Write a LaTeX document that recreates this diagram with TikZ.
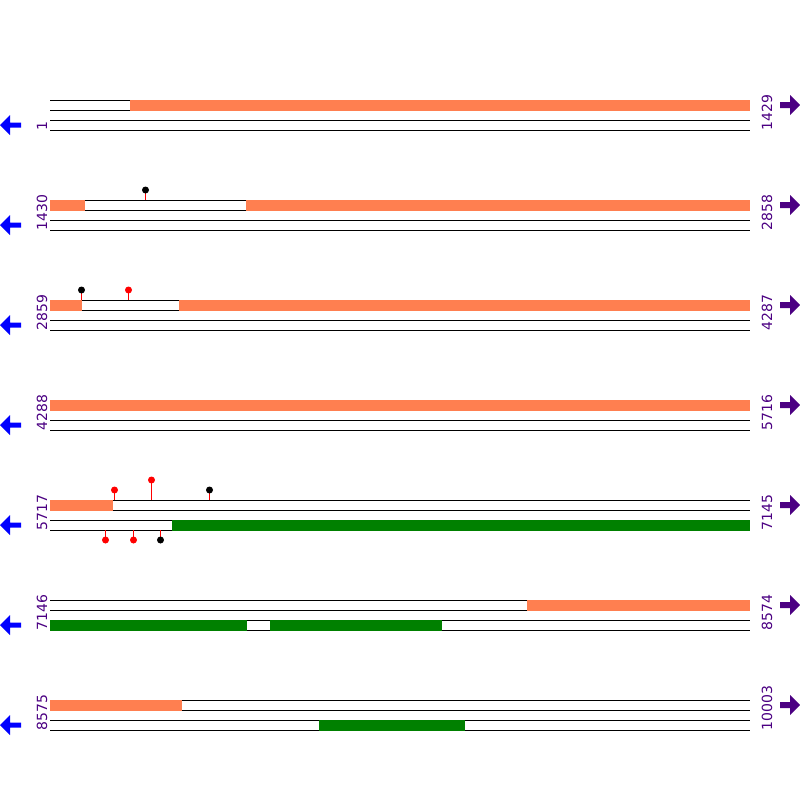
\documentclass[tikz,border=0pt]{standalone}
\usepackage{fontspec}
\setmainfont{DejaVu Sans}
\definecolor{coralc}{HTML}{FF7F50}
\definecolor{greenc}{HTML}{008000}
\definecolor{labc}{HTML}{4B0082}
\begin{document}
\begin{tikzpicture}[x=1pt,y=-1pt,
  strand/.style={line width=1pt,black},
  cds/.style={fill=coralc,draw=none},
  gbox/.style={fill=greenc,draw=none},
  stick/.style={red,line width=1pt},
  headR/.style={fill=red,draw=none},
  headB/.style={fill=black,draw=none},
  numlab/.style={text=labc,font=\fontsize{14}{14}\selectfont,rotate=90,anchor=base west,inner sep=0pt},
  larrow/.style={fill=blue,draw=none},
  rarrow/.style={fill=labc,draw=none}]
\useasboundingbox (0,0) rectangle (800,800);
\foreach \i/\l/\r in {0/1/1429,1/1430/2858,2/2859/4287,3/4288/5716,4/5717/7145,5/7146/8574,6/8575/10003}{
  \pgfmathsetmacro{\yy}{100+100*\i}
  \foreach \d in {0,10,20,30}{
    \draw[strand] (50,\yy+\d) -- (750,\yy+\d);
  }
  \fill[larrow] (0,\yy+25) -- (10,\yy+15) -- (10,\yy+22.5) -- (21,\yy+22.5) -- (21,\yy+27.5) -- (10,\yy+27.5) -- (10,\yy+35) -- cycle;
  \fill[rarrow] (800,\yy+5) -- (790,\yy-5) -- (790,\yy+2) -- (780,\yy+2) -- (780,\yy+8) -- (790,\yy+8) -- (790,\yy+15) -- cycle;
  \node[numlab] (L\i) at (47,\yy+30.5) {\l};
  \node[numlab] (R\i) at (772,\yy+30.5) {\r};
}
% row 0
\fill[cds] (130,99.5) rectangle (750,110.5);
% row 1
\fill[cds] (50,199.5) rectangle (85,210.5);
\fill[cds] (246,199.5) rectangle (750,210.5);
\draw[stick] (145.5,200) -- (145.5,190);
\fill[headB] (145.5,190) circle (3.5);
% row 2
\fill[cds] (50,299.5) rectangle (81.5,310.5);
\fill[cds] (179,299.5) rectangle (750,310.5);
\draw[stick] (81.5,300) -- (81.5,290);
\draw[stick] (128.5,300) -- (128.5,290);
\fill[headB] (81.5,290) circle (3.5);
\fill[headR] (128.5,290) circle (3.5);
% row 3
\fill[cds] (50,399.5) rectangle (750,410.5);
% row 4
\fill[cds] (50,499.5) rectangle (113,510.5);
\fill[gbox] (172,519.5) rectangle (750,530.5);
\draw[stick] (114.5,500) -- (114.5,490);
\draw[stick] (151.5,500) -- (151.5,480);
\draw[stick] (209.5,500) -- (209.5,490);
\fill[headR] (114.5,490) circle (3.5);
\fill[headR] (151.5,480) circle (3.5);
\fill[headB] (209.5,490) circle (3.5);
\draw[stick] (105.5,530) -- (105.5,540);
\draw[stick] (133.5,530) -- (133.5,540);
\draw[stick] (160.5,530) -- (160.5,540);
\fill[headR] (105.5,540) circle (3.5);
\fill[headR] (133.5,540) circle (3.5);
\fill[headB] (160.5,540) circle (3.5);
% row 5
\fill[cds] (527,599.5) rectangle (750,610.5);
\fill[gbox] (50,619.5) rectangle (247,630.5);
\fill[gbox] (270,619.5) rectangle (441.5,630.5);
% row 6
\fill[cds] (50,699.5) rectangle (181.5,710.5);
\fill[gbox] (319,719.5) rectangle (465,730.5);
\end{tikzpicture}
\end{document}
